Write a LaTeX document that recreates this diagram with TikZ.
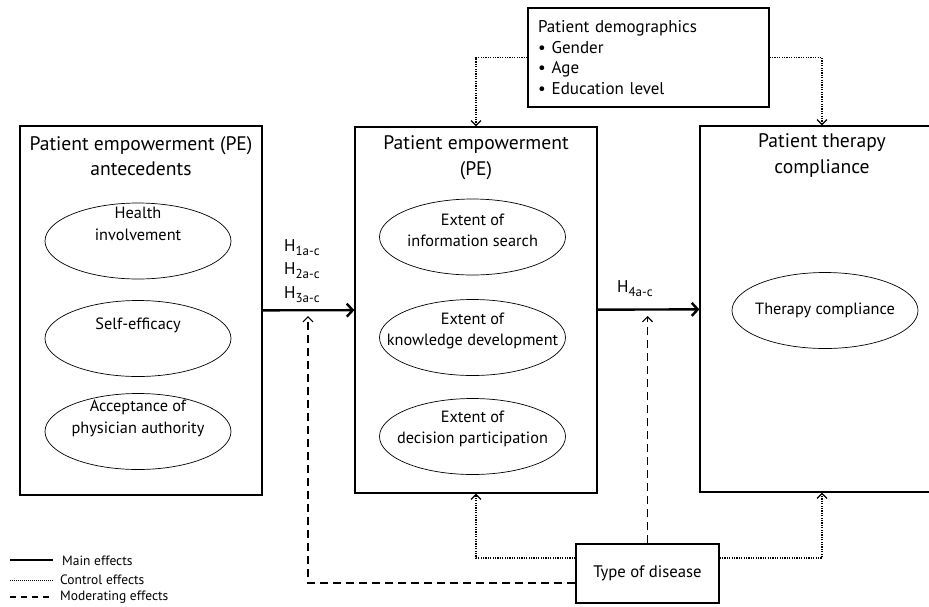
\documentclass[tikz,border=0pt]{standalone}
\usepackage{fontspec}
\setmainfont{PT Sans}
\usetikzlibrary{arrows.meta,shapes.geometric}

\newcommand{\hsub}[1]{\raisebox{-4pt}{\fontsize{13}{13}\selectfont #1}}

\begin{document}
\begin{tikzpicture}[
  x=1pt, y=-1pt,
  bigbox/.style={draw, line width=1.2pt, minimum width=242pt, minimum height=367pt, inner sep=0pt},
  smallbox/.style={draw, line width=1.2pt, inner sep=0pt},
  ttl/.style={align=center, font=\fontsize{19.6}{25.5}\selectfont},
  oval/.style={draw, ellipse, line width=0.7pt, minimum width=186pt, minimum height=76pt, inner sep=0pt},
  otxt/.style={align=center, font=\fontsize{16.3}{21.5}\selectfont},
  hlbl/.style={align=left, font=\fontsize{17}{23.5}\selectfont, inner sep=0pt},
  edg/.style={-{Straight Barb[length=6pt,width=13pt]}, line width=2.4pt},
  edgc/.style={-{Straight Barb[length=5pt,width=10pt,line width=1.2pt]}, dash pattern=on 1.2pt off 1.2pt, line width=1.2pt},
  edgm/.style={-{Straight Barb[length=5pt,width=10pt,line width=1.2pt]}, dash pattern=on 8pt off 5pt, line width=1.5pt},
  lgd/.style={anchor=west, font=\fontsize{13.5}{14}\selectfont, inner sep=0pt}
]
\useasboundingbox (0,0) rectangle (929,606);

% big boxes
\node[bigbox, minimum height=369pt] (ANT) at (141,310.5) {};
\node[bigbox, minimum height=366pt] (PE) at (476,310) {};
\node[bigbox, minimum width=244pt, minimum height=366pt] (PTC) at (822,309) {};

\node[ttl] (ANTt) at (141,156) {Patient empowerment (PE)\\antecedents};
\node[ttl] (PEt) at (476,157.5) {Patient empowerment\\(PE)};
\node[ttl] (PTCt) at (822,155.5) {Patient therapy\\compliance};

% antecedents
\node[oval] (HI) at (138,241) {};
\node[otxt] (HIt) at (138,224) {Health\\involvement};
\node[oval] (SE) at (138,338.5) {};
\node[otxt] (SEt) at (138,325) {Self-efficacy};
\node[oval] (AP) at (138,431.5) {};
\node[otxt] (APt) at (138,418.5) {Acceptance of\\physician authority};

% empowerment
\node[oval] (IS) at (472.5,237) {};
\node[otxt] (ISt) at (472.5,230.5) {Extent of\\information search};
\node[oval] (KD) at (472.5,337.5) {};
\node[otxt] (KDt) at (472.5,331) {Extent of\\knowledge development};
\node[oval] (DP) at (472.5,436.5) {};
\node[otxt] (DPt) at (472.5,429) {Extent of\\decision participation};

% compliance
\node[oval] (TC) at (825,310.5) {};
\node[otxt] (TCt) at (825,310) {Therapy compliance};

% control / moderator boxes
\node[smallbox, minimum width=241pt, minimum height=99pt, text width=221pt, align=left,
      font=\fontsize{17}{20.5}\selectfont] (DEM) at (648.5,57.5)
  {Patient demographics\\\textbullet\hspace{6pt}Gender\\\textbullet\hspace{6pt}Age\\\textbullet\hspace{6pt}Education level};
\node[smallbox, minimum width=143pt, minimum height=59pt, font=\fontsize{16.7}{21}\selectfont] (TOD) at (647.5,573.5) {Type of disease};

% hypotheses
\node[hlbl, anchor=west] (H13) at (284,271) {H\hsub{1a-c}\\H\hsub{2a-c}\\H\hsub{3a-c}};
\node[hlbl, anchor=west] (H4) at (617,289) {H\hsub{4a-c}};

% main effects
\draw[edg] (ANT) -- (PE);
\draw[edg] (PE) -- (PTC);

% control effects
\draw[edgc] (DEM.west) -| (PE.north);
\draw[edgc] (DEM.east) -| (PTC.north);
\draw[edgc] ([yshift=15.5pt]TOD.west) -| (PE.south);
\draw[edgc] ([yshift=15.5pt]TOD.east) -| (PTC.south);

% moderating effects
\coordinate (m1) at (308,316);
\coordinate (m2) at (647.5,316);
\draw[edgm] ([yshift=-9.5pt]TOD.west) -| (m1);
\draw[edgm] (TOD.north) -- (m2);

% legend
\node[lgd] (L1) at (62,561) {Main effects};
\node[lgd] (L2) at (60,579.5) {Control effects};
\node[lgd] (L3) at (60,597) {Moderating effects};
\draw[line width=2pt] (10,560) -- (53,560);
\draw[line width=1pt, dash pattern=on 1pt off 1pt] (10,580) -- (53,580);
\draw[line width=1.5pt, dash pattern=on 6pt off 5pt] (10,597) -- (53,597);

\end{tikzpicture}
\end{document}
